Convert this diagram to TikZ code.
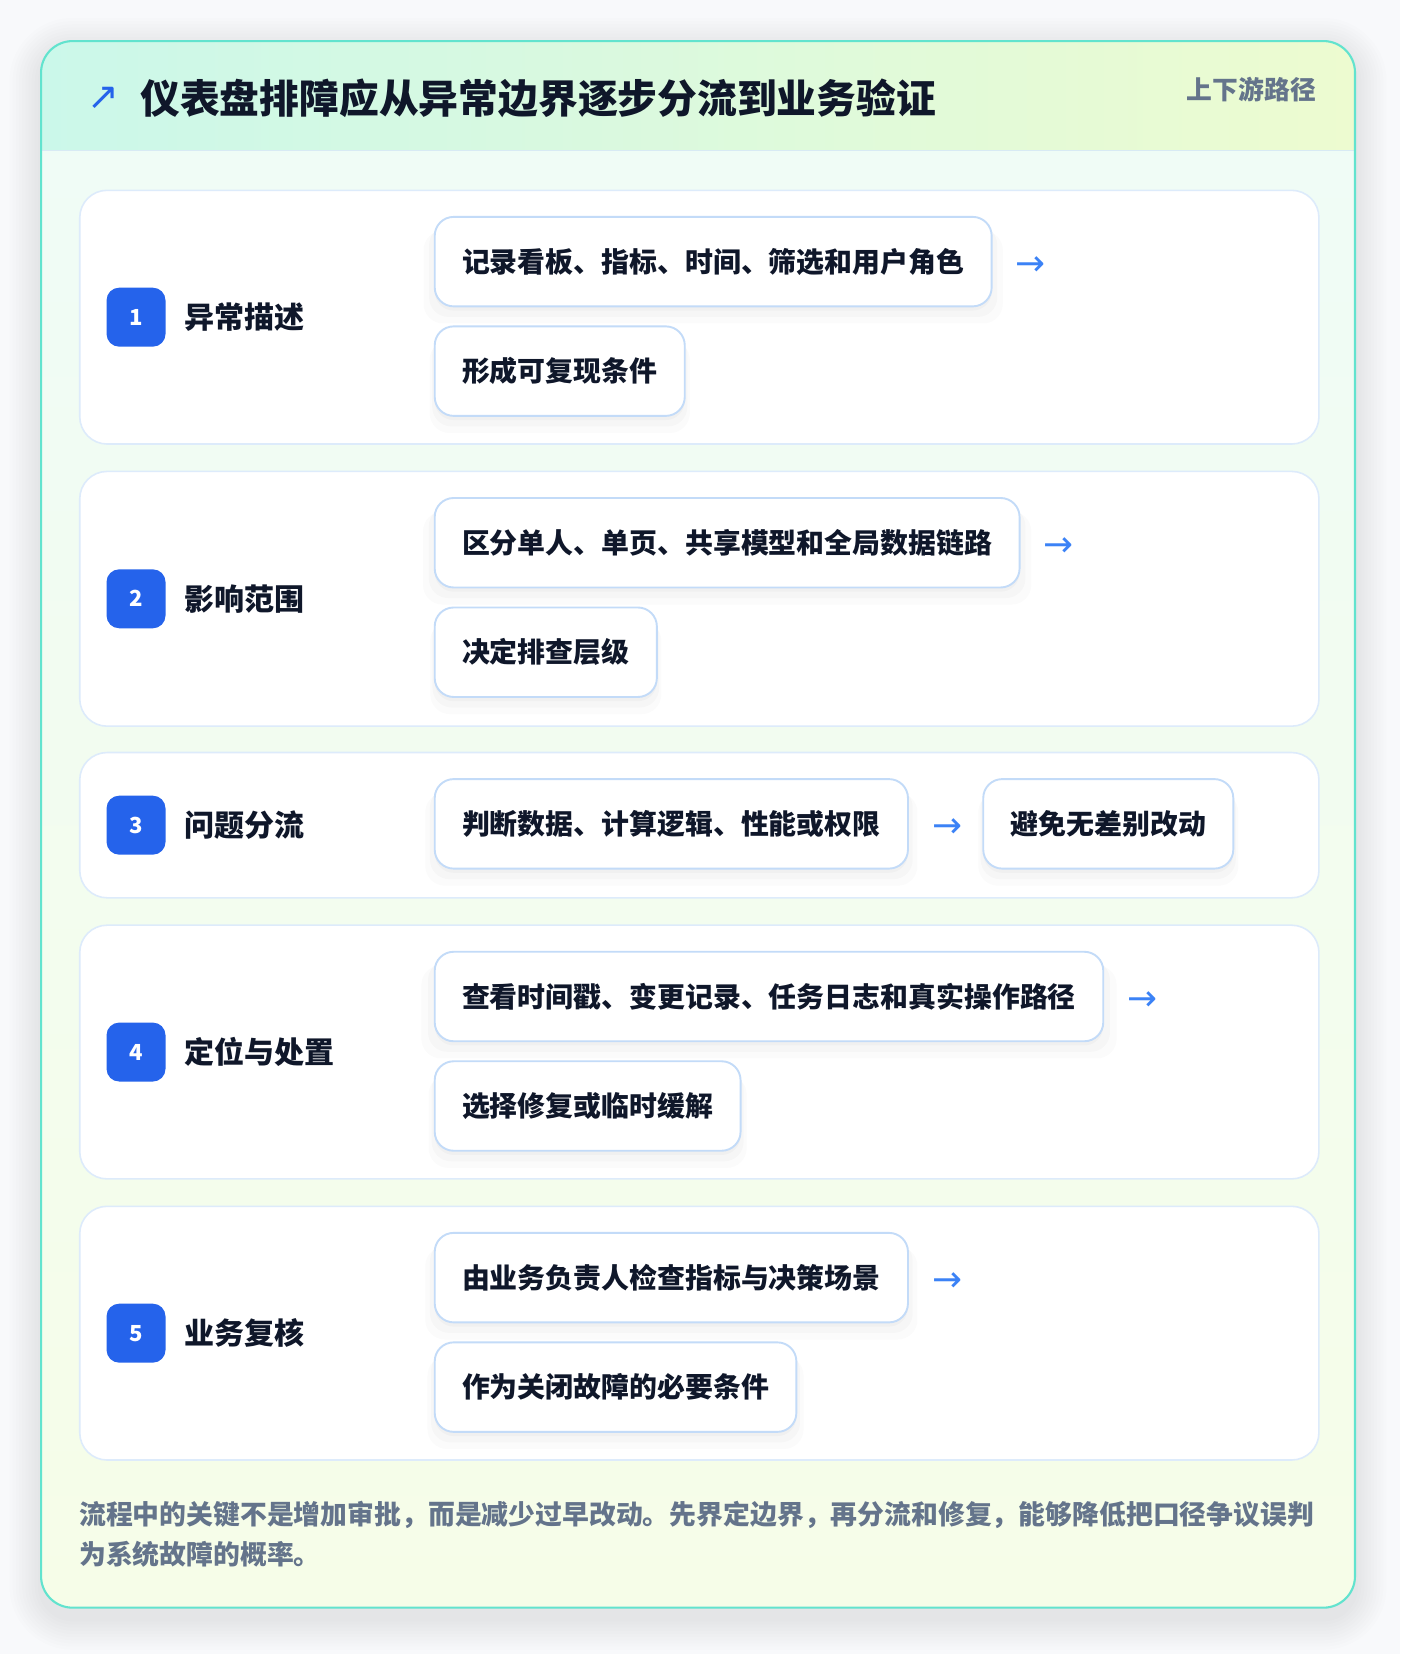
\documentclass[tikz,border=0pt]{standalone}
\usepackage{fontspec}
\setmainfont{Noto Sans CJK SC}
\newfontfamily\symfont{DejaVu Sans}
\usetikzlibrary{positioning,shadows}

\definecolor{pagebg}{HTML}{F8F9FB}
\definecolor{frameteal}{HTML}{62E3CE}
\definecolor{headleft}{HTML}{CBF8EA}
\definecolor{headright}{HTML}{EDFBD0}
\definecolor{bodytop}{HTML}{EFFCF7}
\definecolor{bodybottom}{HTML}{F6FDE8}
\definecolor{headline}{HTML}{D8EAF4}
\definecolor{cardline}{HTML}{DDEBFB}
\definecolor{boxline}{HTML}{C3DBF8}
\definecolor{badgeblue}{HTML}{2563EB}
\definecolor{arrowblue}{HTML}{3B82F6}
\definecolor{ink}{HTML}{0F172A}
\definecolor{muted}{HTML}{64748B}

\begin{document}
\begin{tikzpicture}[x=1pt, y=-1pt,
  card/.style={draw=cardline, line width=1.5pt, fill=white, rounded corners=26pt,
    minimum width=1177pt, inner sep=0pt, anchor=north west},
  badge/.style={fill=badgeblue, rounded corners=12pt, minimum size=56pt, inner sep=0pt,
    text=white, font=\fontsize{21}{21}\selectfont\bfseries},
  steplabel/.style={inner sep=0pt, text=ink, font=\fontsize{28.5}{28.5}\selectfont\bfseries},
  itembox/.style={draw=boxline, line width=1.8pt, fill=white, rounded corners=18pt,
    minimum height=85pt, inner xsep=26pt, inner ysep=0pt, anchor=west, text=ink,
    font=\fontsize{26.5}{26.5}\selectfont\bfseries,
    drop shadow={shadow xshift=0pt, shadow yshift=-4pt, opacity=0.025, fill=black},
    drop shadow={shadow xshift=0pt, shadow yshift=-9pt, shadow scale=1.02, opacity=0.02, fill=black},
    drop shadow={shadow xshift=0pt, shadow yshift=-14pt, shadow scale=1.04, opacity=0.015, fill=black}},
  flowarrow/.style={inner sep=0pt, yshift=-4pt, text=arrowblue, font=\symfont\fontsize{34}{34}\selectfont}]

  % page and frame
  \useasboundingbox (0,0) rectangle (1330,1571);
  \fill[pagebg] (0,0) rectangle (1330,1571);
  \foreach \s in {3,6,...,30}
    \fill[black, opacity=0.006, rounded corners=30+\s] (39-\s,47-\s) rectangle (1287+\s,1537+\s);
  \begin{scope}
    \clip[rounded corners=30] (39,39) rectangle (1287,1527);
    \shade[top color=bodytop, bottom color=bodybottom] (39,39) rectangle (1287,1527);
    \shade[left color=headleft, right color=headright] (39,39) rectangle (1287,143);
  \end{scope}
  \draw[headline, line width=1.5pt] (40,143) -- (1286,143);
  \draw[frameteal, line width=2pt, rounded corners=30] (39,39) rectangle (1287,1527);

  % header
  \node[anchor=west, inner sep=0pt, text=ink, font=\fontsize{37.8}{37.8}\selectfont\bfseries] (title) at (133,93)
    {仪表盘排障应从异常边界逐步分流到业务验证};
  \node[left=20pt of title, inner sep=0pt, text=badgeblue, font=\symfont\fontsize{36}{36}\selectfont] (icon) {↗};
  \node[anchor=east, inner sep=0pt, text=muted, font=\fontsize{24.5}{24.5}\selectfont\bfseries] (tag) at (1250,85) {上下游路径};

  % step 1
  \node[card, minimum height=241pt] (card1) at (75,180) {};
  \node[badge, right=26pt of card1.west] (badge1) {1};
  \node[steplabel, right=18pt of badge1] (label1) {异常描述};
  \node[itembox] (box1a) at (412,248.5) {记录看板、指标、时间、筛选和用户角色};
  \node[flowarrow, right=22pt of box1a] (arrow1) {→};
  \node[itembox] (box1b) at (412,352.5) {形成可复现条件};

  % step 2
  \node[card, minimum height=242pt] (card2) at (75,447) {};
  \node[badge, right=26pt of card2.west] (badge2) {2};
  \node[steplabel, right=18pt of badge2] (label2) {影响范围};
  \node[itembox] (box2a) at (412,515.5) {区分单人、单页、共享模型和全局数据链路};
  \node[flowarrow, right=22pt of box2a] (arrow2) {→};
  \node[itembox] (box2b) at (412,619.5) {决定排查层级};

  % step 3
  \node[card, minimum height=138pt] (card3) at (75,714) {};
  \node[badge, right=26pt of card3.west] (badge3) {3};
  \node[steplabel, right=18pt of badge3] (label3) {问题分流};
  \node[itembox] (box3a) at (412,782.5) {判断数据、计算逻辑、性能或权限};
  \node[flowarrow, right=22pt of box3a] (arrow3) {→};
  \node[itembox] (box3b) at (933,782.5) {避免无差别改动};

  % step 4
  \node[card, minimum height=241pt] (card4) at (75,878) {};
  \node[badge, right=26pt of card4.west] (badge4) {4};
  \node[steplabel, right=18pt of badge4] (label4) {定位与处置};
  \node[itembox] (box4a) at (412,946.5) {查看时间戳、变更记录、任务日志和真实操作路径};
  \node[flowarrow, right=22pt of box4a] (arrow4) {→};
  \node[itembox] (box4b) at (412,1050.5) {选择修复或临时缓解};

  % step 5
  \node[card, minimum height=241pt] (card5) at (75,1145) {};
  \node[badge, right=26pt of card5.west] (badge5) {5};
  \node[steplabel, right=18pt of badge5] (label5) {业务复核};
  \node[itembox] (box5a) at (412,1213.5) {由业务负责人检查指标与决策场景};
  \node[flowarrow, right=22pt of box5a] (arrow5) {→};
  \node[itembox] (box5b) at (412,1317.5) {作为关闭故障的必要条件};

  % footer note
  \node[anchor=north west, inner sep=0pt, align=left, text=muted,
    font=\fontsize{25.5}{38}\selectfont\bfseries] (note) at (75,1426)
    {流程中的关键不是增加审批，而是减少过早改动。先界定边界，再分流和修复，能够降低把口径争议误判\\
     为系统故障的概率。};
\end{tikzpicture}
\end{document}
